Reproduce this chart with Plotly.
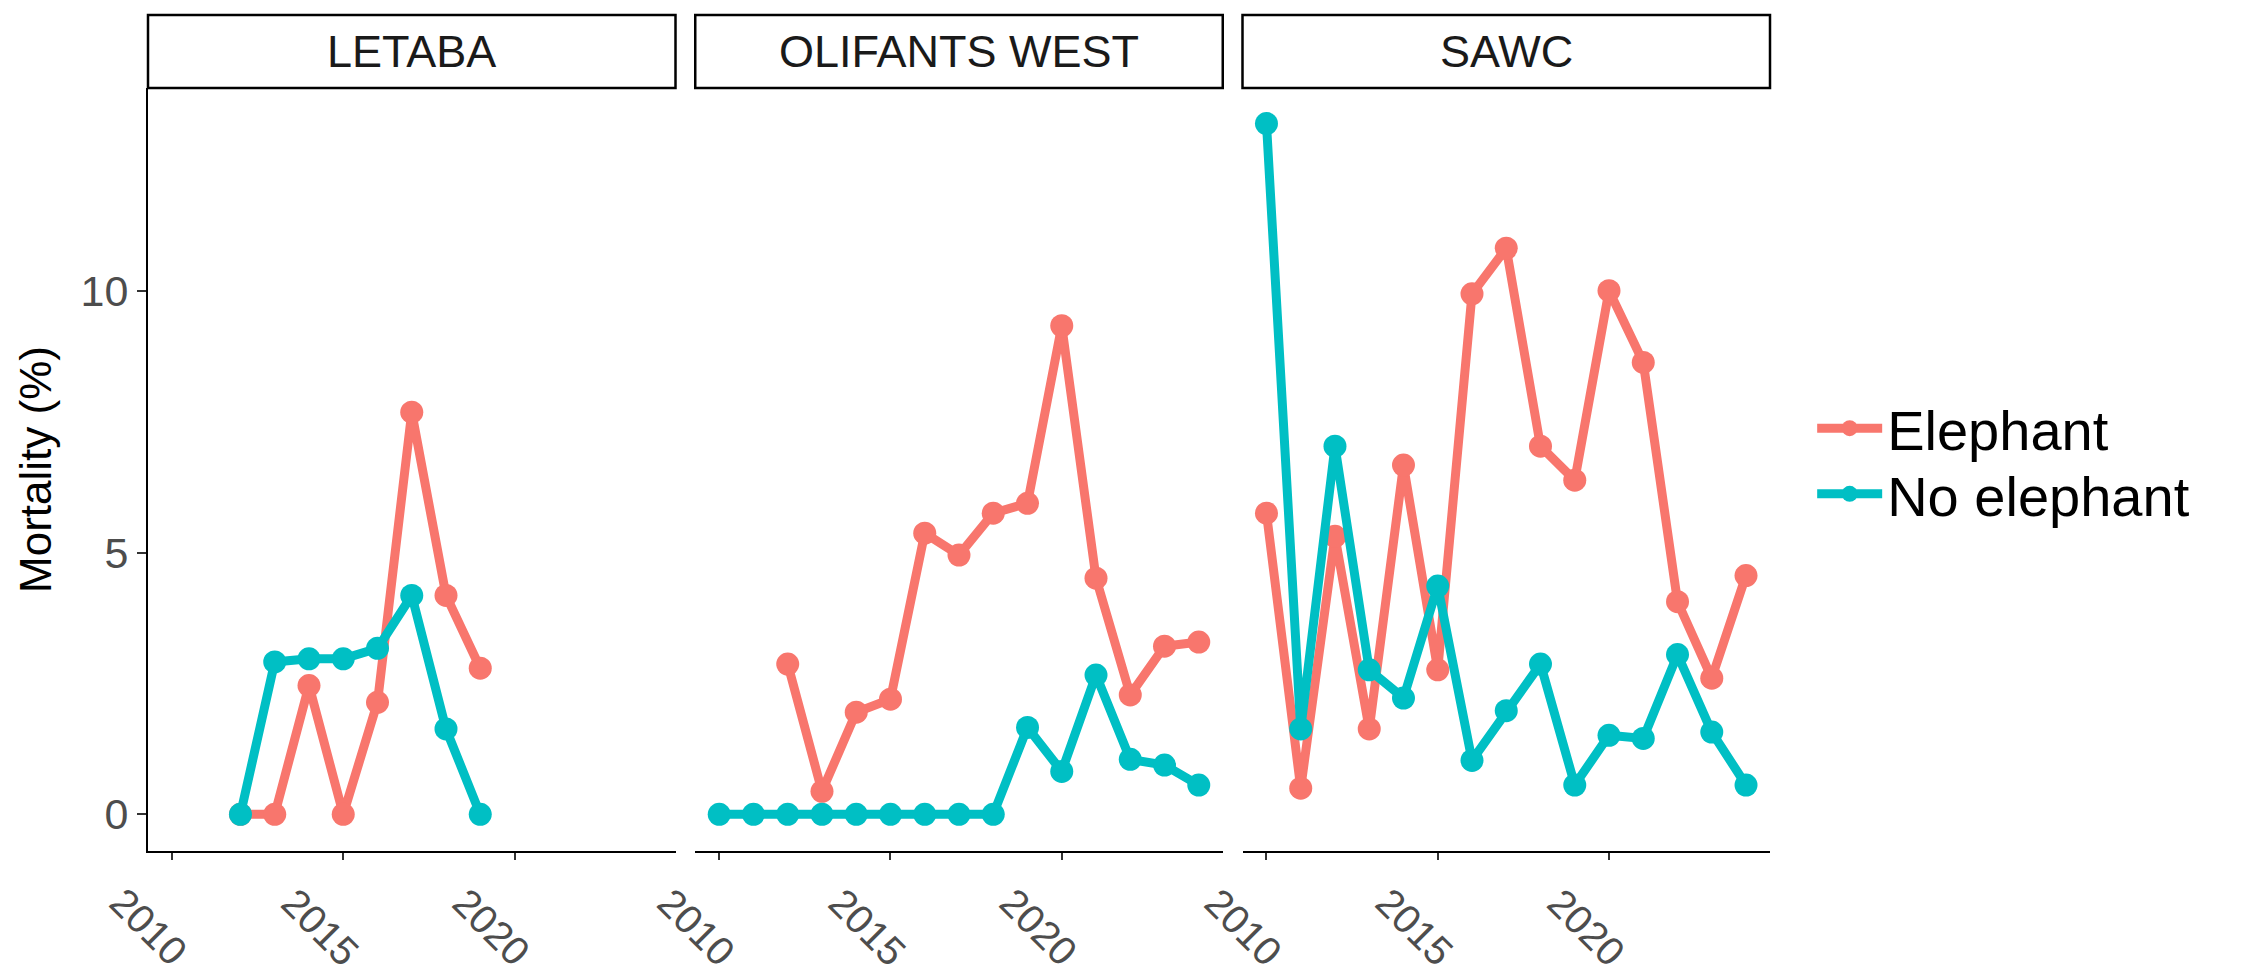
import plotly.graph_objects as go

# ---------------- data ----------------
panels = ["LETABA", "OLIFANTS WEST", "SAWC"]

letaba_years = [2012, 2013, 2014, 2015, 2016, 2017, 2018, 2019]
letaba_elephant = [0.0, 0.0, 2.46, 0.0, 2.14, 7.68, 4.18, 2.79]
letaba_no_elephant = [0.0, 2.91, 2.97, 2.97, 3.17, 4.18, 1.63, 0.0]

olifants_years = [2010, 2011, 2012, 2013, 2014, 2015, 2016, 2017, 2018, 2019, 2020, 2021, 2022, 2023, 2024]
olifants_elephant = [None, None, 2.87, 0.44, 1.95, 2.20, 5.37, 4.95, 5.75, 5.94, 9.33, 4.51, 2.28, 3.21, 3.29]
olifants_no_elephant = [0.0, 0.0, 0.0, 0.0, 0.0, 0.0, 0.0, 0.0, 0.0, 1.66, 0.82, 2.66, 1.05, 0.94, 0.56]

sawc_years = [2010, 2011, 2012, 2013, 2014, 2015, 2016, 2017, 2018, 2019, 2020, 2021, 2022, 2023, 2024]
sawc_elephant = [5.75, 0.50, 5.31, 1.63, 6.67, 2.76, 9.94, 10.81, 7.03, 6.38, 10.00, 8.63, 4.06, 2.60, 4.56]
sawc_no_elephant = [13.19, 1.63, 7.03, 2.76, 2.22, 4.36, 1.03, 1.98, 2.87, 0.56, 1.51, 1.45, 3.05, 1.57, 0.56]

series_names = ["Elephant", "No elephant"]
series_colors = ["#F8766D", "#00BFC4"]

x_tick_vals = [2010, 2015, 2020]
y_tick_vals = [0, 5, 10]
y_title = "Mortality (%)"

# ---------------- style ----------------
FONT = "Liberation Sans, Arial, sans-serif"
TICK_COLOR = "#4D4D4D"
X_RANGE = [2009.3, 2024.7]
Y_RANGE = [-0.70, 13.87]

W, H = 2242, 975
ML, MR, MT, MB = 140, 480, 80, 132
plot_w = W - ML - MR
plot_h = H - MT - MB
panel_w = 527.5 / plot_w
gap = (1 - 3 * panel_w) / 2
domains = [[i * (panel_w + gap), i * (panel_w + gap) + panel_w] for i in range(3)]
domains[2][1] = 1.0

panel_data = [
    (letaba_years, letaba_elephant, letaba_no_elephant),
    (olifants_years, olifants_elephant, olifants_no_elephant),
    (sawc_years, sawc_elephant, sawc_no_elephant),
]
legend_ids = ["legend", "legend2"]

fig = go.Figure()
for p, (yrs, ele, noele) in enumerate(panel_data):
    xa = "x" if p == 0 else f"x{p+1}"
    ya = "y" if p == 0 else f"y{p+1}"
    for s, vals in enumerate([ele, noele]):
        fig.add_trace(go.Scatter(
            x=yrs, y=vals, mode="lines+markers",
            name=series_names[s],
            legendgroup=series_names[s],
            legend=legend_ids[s],
            showlegend=(p == 0),
            line=dict(color=series_colors[s], width=9),
            marker=dict(color=series_colors[s], size=23),
            connectgaps=False,
            xaxis=xa, yaxis=ya,
        ))

legend_common = dict(
    x=1.026, xanchor="left", yanchor="middle",
    font=dict(size=56, family=FONT, color="black"),
    itemwidth=65, tracegroupgap=0, bgcolor="rgba(0,0,0,0)",
)

layout = dict(
    width=W, height=H,
    margin=dict(l=ML, r=MR, t=MT, b=MB, autoexpand=False),
    paper_bgcolor="white", plot_bgcolor="white",
    font=dict(family=FONT, color="black"),
    showlegend=True,
    legend=dict(y=0.554, **legend_common),
    legend2=dict(y=0.468, **legend_common),
)

for p in range(3):
    xk = "xaxis" if p == 0 else f"xaxis{p+1}"
    yk = "yaxis" if p == 0 else f"yaxis{p+1}"
    layout[xk] = dict(
        domain=domains[p], range=X_RANGE, anchor="y" if p == 0 else f"y{p+1}",
        showgrid=False, zeroline=False,
        showline=True, linecolor="black", linewidth=2,
        ticks="outside", ticklen=7, tickwidth=2, tickcolor="#333333",
        tickvals=x_tick_vals, showticklabels=False,
    )
    ydict = dict(
        domain=[0, 1], range=Y_RANGE, anchor="x" if p == 0 else f"x{p+1}",
        showgrid=False, zeroline=False,
    )
    if p == 0:
        ydict.update(
            showline=True, linecolor="black", linewidth=2,
            ticks="outside", ticklen=9, tickwidth=2, tickcolor="#333333",
            tickvals=y_tick_vals, ticktext=[str(v) for v in y_tick_vals],
            tickfont=dict(size=43, color=TICK_COLOR, family=FONT),
            title=dict(text=y_title, font=dict(size=44, color="black", family=FONT)),
        )
    else:
        ydict.update(matches="y", showline=False, ticks="", showticklabels=False)
    layout[yk] = ydict

fig.update_layout(**layout)

# strips
strip_top = 1 + 73 / plot_h
for p, name in enumerate(panels):
    fig.add_shape(type="rect", xref="paper", yref="paper",
                  x0=domains[p][0], x1=domains[p][1], y0=1.0, y1=strip_top,
                  line=dict(color="black", width=2.5), fillcolor="white", layer="above")
    fig.add_annotation(x=(domains[p][0] + domains[p][1]) / 2, y=(1 + strip_top) / 2,
                       xref="paper", yref="paper", text=name, showarrow=False,
                       xanchor="center", yanchor="middle",
                       font=dict(size=45, color="#1A1A1A", family=FONT))

# rotated x tick labels
for p in range(3):
    xa = "x" if p == 0 else f"x{p+1}"
    for t in x_tick_vals:
        fig.add_annotation(x=t, xref=xa, y=0, yref="paper", text=str(t),
                           textangle=45, showarrow=False,
                           xanchor="center", yanchor="middle",
                           xshift=-23, yshift=-76,
                           font=dict(size=40, color=TICK_COLOR, family=FONT))

fig.write_html("out.html")
